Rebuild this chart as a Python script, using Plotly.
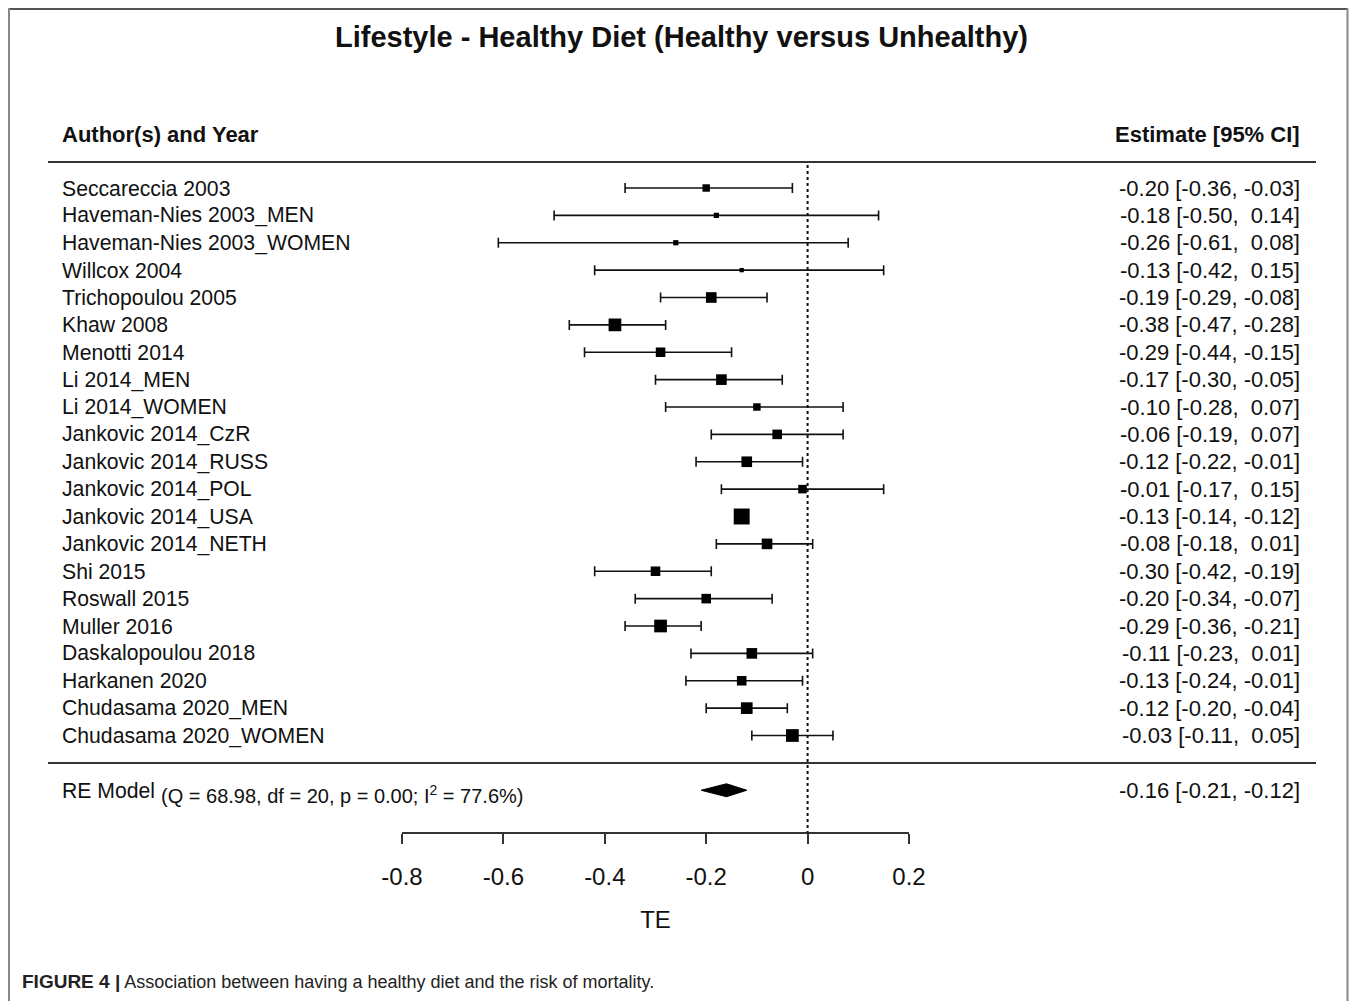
import plotly.graph_objects as go

# page body margin offset (px) so reference pixel positions map exactly
OX, OY = 8, 8
W, H = 1357 - OX, 1001 - OY

studies = ["Seccareccia 2003", "Haveman-Nies 2003_MEN", "Haveman-Nies 2003_WOMEN", "Willcox 2004",
           "Trichopoulou 2005", "Khaw 2008", "Menotti 2014", "Li 2014_MEN", "Li 2014_WOMEN",
           "Jankovic 2014_CzR", "Jankovic 2014_RUSS", "Jankovic 2014_POL", "Jankovic 2014_USA",
           "Jankovic 2014_NETH", "Shi 2015", "Roswall 2015", "Muller 2016", "Daskalopoulou 2018",
           "Harkanen 2020", "Chudasama 2020_MEN", "Chudasama 2020_WOMEN"]
estimate = [-0.20, -0.18, -0.26, -0.13, -0.19, -0.38, -0.29, -0.17, -0.10, -0.06, -0.12, -0.01,
            -0.13, -0.08, -0.30, -0.20, -0.29, -0.11, -0.13, -0.12, -0.03]
ci_low = [-0.36, -0.50, -0.61, -0.42, -0.29, -0.47, -0.44, -0.30, -0.28, -0.19, -0.22, -0.17,
          -0.14, -0.18, -0.42, -0.34, -0.36, -0.23, -0.24, -0.20, -0.11]
ci_high = [-0.03, 0.14, 0.08, 0.15, -0.08, -0.28, -0.15, -0.05, 0.07, 0.07, -0.01, 0.15,
           -0.12, 0.01, -0.19, -0.07, -0.21, 0.01, -0.01, -0.04, 0.05]
weights = [4.8, 2.4, 2.4, 1.6, 9.8, 14.0, 7.9, 9.8, 4.8, 7.9, 9.8, 6.3, 22.0, 9.8, 7.9, 7.9,
           14.0, 9.8, 7.9, 11.8, 14.0]

re_est, re_low, re_high = -0.16, -0.21, -0.12
re_stats = "(Q = 68.98, df = 20, p = 0.00; I<sup>2</sup> = 77.6%)"
tick_vals = [-0.8, -0.6, -0.4, -0.2, 0, 0.2]
tick_text = ["-0.8", "-0.6", "-0.4", "-0.2", "0", "0.2"]

title = "Lifestyle - Healthy Diet (Healthy versus Unhealthy)"
caption_bold = "FIGURE 4 |"
caption_text = "Association between having a healthy diet and the risk of mortality."

FONT = "Liberation Sans, Arial, sans-serif"
INK = "#111111"

rows = list(range(1, len(studies) + 1))
re_row = len(studies) + 2
sizes = [3.4 * w ** 0.5 for w in weights]

# y axis in row units: row 1 at 188px (reference), spacing 27.375 px
row_step = 27.375
def row_of(px):
    return 1 + (px - 188.0) / row_step
y_top = row_of(OY)
y_bot = row_of(OY + H)

def px_x(px):
    return (px - OX) / W

def px_y(px):
    return 1 - (px - OY) / H

fig = go.Figure()

# confidence intervals (drawn first, under the squares)
fig.add_trace(go.Scatter(
    x=estimate, y=rows, mode="markers",
    marker=dict(size=1, color="rgba(0,0,0,0)"),
    error_x=dict(type="data", symmetric=False,
                 array=[h - e for h, e in zip(ci_high, estimate)],
                 arrayminus=[e - l for e, l in zip(estimate, ci_low)],
                 color=INK, thickness=1.6, width=5),
    cliponaxis=False, showlegend=False, hoverinfo="skip"))

# point estimates
fig.add_trace(go.Scatter(
    x=estimate, y=rows, mode="markers",
    marker=dict(symbol="square", size=sizes, color="black", opacity=1, line=dict(width=0)),
    cliponaxis=False, showlegend=False, hoverinfo="skip"))

dh = 6.5 / row_step
fig.add_trace(go.Scatter(
    x=[re_low, re_est, re_high, re_est, re_low],
    y=[re_row, re_row - dh, re_row, re_row + dh, re_row],
    mode="lines", fill="toself", fillcolor="black",
    line=dict(color="black", width=1), cliponaxis=False,
    showlegend=False, hoverinfo="skip"))

ann = []
LAB = 21.2
for r, s, e, l, h in zip(rows, studies, estimate, ci_low, ci_high):
    ann.append(dict(x=px_x(60), xref="paper", y=r, yref="y", text=s, xanchor="left",
                    yanchor="middle", showarrow=False, font=dict(size=LAB, color=INK, family=FONT)))
    lab = f"{e:5.2f} [{l:5.2f}, {h:5.2f}]".replace(" ", "\u00a0")
    ann.append(dict(x=px_x(1302), xref="paper", y=r, yref="y", text=lab, xanchor="right",
                    yanchor="middle", showarrow=False, font=dict(size=22, color=INK, family=FONT)))

ann.append(dict(x=px_x(60), xref="paper", y=re_row, yref="y", text="RE Model", xanchor="left",
                yanchor="middle", showarrow=False, font=dict(size=LAB, color=INK, family=FONT)))
ann.append(dict(x=px_x(159), xref="paper", y=row_of(794), yref="y", text=re_stats, xanchor="left",
                yanchor="middle", showarrow=False, font=dict(size=20, color=INK, family=FONT)))
lab = f"{re_est:5.2f} [{re_low:5.2f}, {re_high:5.2f}]".replace(" ", "\u00a0")
ann.append(dict(x=px_x(1302), xref="paper", y=re_row, yref="y", text=lab, xanchor="right",
                yanchor="middle", showarrow=False, font=dict(size=22, color=INK, family=FONT)))

ann.append(dict(x=px_x(60), xref="paper", y=row_of(134), yref="y", text="<b>Author(s) and Year</b>",
                xanchor="left", yanchor="middle", showarrow=False,
                font=dict(size=22, color=INK, family=FONT)))
ann.append(dict(x=px_x(1302), xref="paper", y=row_of(134), yref="y", text="<b>Estimate [95% CI]</b>",
                xanchor="right", yanchor="middle", showarrow=False,
                font=dict(size=22, color=INK, family=FONT)))
ann.append(dict(x=px_x(681), xref="paper", y=row_of(37), yref="y", text=f"<b>{title}</b>",
                xanchor="center", yanchor="middle", showarrow=False,
                font=dict(size=29, color=INK, family=FONT)))
ann.append(dict(x=px_x(20), xref="paper", y=row_of(981), yref="y",
                text=f"<b><span style='font-size:19px'>{caption_bold}</span></b> {caption_text}",
                xanchor="left", yanchor="middle", showarrow=False,
                font=dict(size=18, color="#222", family=FONT)))

shapes = [
    dict(type="line", xref="paper", yref="y", x0=px_x(48), x1=px_x(1316), y0=row_of(162), y1=row_of(162),
         line=dict(color="#333", width=2)),
    dict(type="line", xref="paper", yref="y", x0=px_x(48), x1=px_x(1316), y0=row_of(763), y1=row_of(763),
         line=dict(color="#333", width=2)),
    dict(type="line", xref="x", yref="y", x0=0, x1=0, y0=row_of(165), y1=row_of(833),
         line=dict(color=INK, width=2, dash="dot")),
    # page frame
    dict(type="line", xref="paper", yref="paper", x0=px_x(8), x1=px_x(1348), y0=px_y(9), y1=px_y(9),
         line=dict(color="#555", width=2)),
    dict(type="line", xref="paper", yref="paper", x0=px_x(9), x1=px_x(9), y0=0, y1=px_y(8),
         line=dict(color="#888", width=2)),
    dict(type="line", xref="paper", yref="paper", x0=px_x(1347.5), x1=px_x(1347.5), y0=0, y1=px_y(8),
         line=dict(color="#888", width=2)),
]

fig.update_layout(
    width=W, height=H, margin=dict(l=0, r=0, t=0, b=0, autoexpand=False),
    paper_bgcolor="white", plot_bgcolor="white",
    annotations=ann, shapes=shapes,
    xaxis=dict(domain=[px_x(402), px_x(909)], range=[-0.8, 0.2], anchor="free", position=px_y(833),
               showgrid=False, zeroline=False, showline=True, linecolor="#333", linewidth=2,
               ticks="outside", ticklen=10, tickwidth=2, tickcolor="#333",
               tickvals=tick_vals, ticktext=tick_text, ticklabelstandoff=12,
               tickfont=dict(size=24, color=INK, family=FONT),
               title=dict(text="TE", font=dict(size=24, color=INK, family=FONT), standoff=21)),
    yaxis=dict(domain=[0, 1], range=[y_bot, y_top], visible=False),
)

fig.write_html("out.html")
